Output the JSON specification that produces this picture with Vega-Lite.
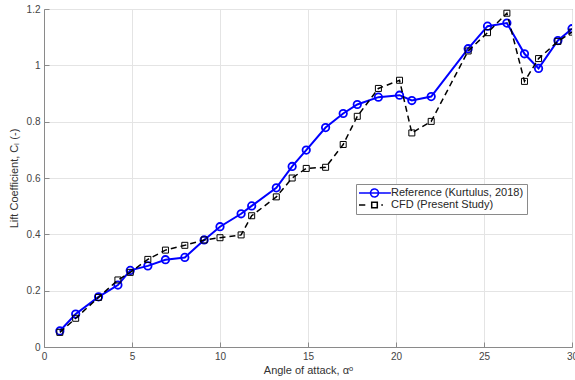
{
  "$schema": "https://vega.github.io/schema/vega-lite/v6.json",
  "width": 528,
  "height": 338,
  "autosize": "none",
  "padding": {"left": 44, "top": 9, "right": 3, "bottom": 33},
  "background": "white",
  "config": {
    "font": "Liberation Sans",
    "view": {"stroke": "#8a8a8a", "strokeWidth": 1},
    "axis": {
      "grid": true,
      "gridColor": "#e4e4e4",
      "gridWidth": 1,
      "domainColor": "#8a8a8a",
      "tickColor": "#8a8a8a",
      "tickSize": -5,
      "labelFont": "Liberation Sans",
      "labelFontSize": 10,
      "labelColor": "#444444",
      "titleFont": "Liberation Sans",
      "titleFontSize": 11,
      "titleFontWeight": "normal",
      "titleColor": "#333333"
    }
  },
  "data": {
    "values": [
      {"series": "Reference (Kurtulus, 2018)", "aoa": 0.9, "cl": 0.057},
      {"series": "Reference (Kurtulus, 2018)", "aoa": 1.8, "cl": 0.117},
      {"series": "Reference (Kurtulus, 2018)", "aoa": 3.1, "cl": 0.178},
      {"series": "Reference (Kurtulus, 2018)", "aoa": 4.2, "cl": 0.22},
      {"series": "Reference (Kurtulus, 2018)", "aoa": 4.9, "cl": 0.272},
      {"series": "Reference (Kurtulus, 2018)", "aoa": 5.9, "cl": 0.288},
      {"series": "Reference (Kurtulus, 2018)", "aoa": 6.9, "cl": 0.31},
      {"series": "Reference (Kurtulus, 2018)", "aoa": 8.0, "cl": 0.318},
      {"series": "Reference (Kurtulus, 2018)", "aoa": 9.1, "cl": 0.38},
      {"series": "Reference (Kurtulus, 2018)", "aoa": 10.0, "cl": 0.427},
      {"series": "Reference (Kurtulus, 2018)", "aoa": 11.2, "cl": 0.473},
      {"series": "Reference (Kurtulus, 2018)", "aoa": 11.8, "cl": 0.501},
      {"series": "Reference (Kurtulus, 2018)", "aoa": 13.2, "cl": 0.565},
      {"series": "Reference (Kurtulus, 2018)", "aoa": 14.1, "cl": 0.641},
      {"series": "Reference (Kurtulus, 2018)", "aoa": 14.9, "cl": 0.699},
      {"series": "Reference (Kurtulus, 2018)", "aoa": 16.0, "cl": 0.779},
      {"series": "Reference (Kurtulus, 2018)", "aoa": 17.0, "cl": 0.829},
      {"series": "Reference (Kurtulus, 2018)", "aoa": 17.8, "cl": 0.861},
      {"series": "Reference (Kurtulus, 2018)", "aoa": 19.0, "cl": 0.887},
      {"series": "Reference (Kurtulus, 2018)", "aoa": 20.2, "cl": 0.894},
      {"series": "Reference (Kurtulus, 2018)", "aoa": 20.9, "cl": 0.875},
      {"series": "Reference (Kurtulus, 2018)", "aoa": 22.0, "cl": 0.889},
      {"series": "Reference (Kurtulus, 2018)", "aoa": 24.1, "cl": 1.059},
      {"series": "Reference (Kurtulus, 2018)", "aoa": 25.2, "cl": 1.139},
      {"series": "Reference (Kurtulus, 2018)", "aoa": 26.3, "cl": 1.15},
      {"series": "Reference (Kurtulus, 2018)", "aoa": 27.3, "cl": 1.041},
      {"series": "Reference (Kurtulus, 2018)", "aoa": 28.1, "cl": 0.989},
      {"series": "Reference (Kurtulus, 2018)", "aoa": 29.2, "cl": 1.088},
      {"series": "Reference (Kurtulus, 2018)", "aoa": 30.0, "cl": 1.13},
      {"series": "CFD (Present Study)", "aoa": 0.9, "cl": 0.052},
      {"series": "CFD (Present Study)", "aoa": 1.8, "cl": 0.102},
      {"series": "CFD (Present Study)", "aoa": 3.1, "cl": 0.176},
      {"series": "CFD (Present Study)", "aoa": 4.2, "cl": 0.238},
      {"series": "CFD (Present Study)", "aoa": 4.9, "cl": 0.265},
      {"series": "CFD (Present Study)", "aoa": 5.9, "cl": 0.311},
      {"series": "CFD (Present Study)", "aoa": 6.9, "cl": 0.344},
      {"series": "CFD (Present Study)", "aoa": 8.0, "cl": 0.361},
      {"series": "CFD (Present Study)", "aoa": 9.1, "cl": 0.38},
      {"series": "CFD (Present Study)", "aoa": 10.0, "cl": 0.388},
      {"series": "CFD (Present Study)", "aoa": 11.2, "cl": 0.398},
      {"series": "CFD (Present Study)", "aoa": 11.8, "cl": 0.466},
      {"series": "CFD (Present Study)", "aoa": 13.2, "cl": 0.533},
      {"series": "CFD (Present Study)", "aoa": 14.1, "cl": 0.6},
      {"series": "CFD (Present Study)", "aoa": 14.9, "cl": 0.634},
      {"series": "CFD (Present Study)", "aoa": 16.0, "cl": 0.638},
      {"series": "CFD (Present Study)", "aoa": 17.0, "cl": 0.719},
      {"series": "CFD (Present Study)", "aoa": 17.8, "cl": 0.819},
      {"series": "CFD (Present Study)", "aoa": 19.0, "cl": 0.918},
      {"series": "CFD (Present Study)", "aoa": 20.2, "cl": 0.947},
      {"series": "CFD (Present Study)", "aoa": 20.9, "cl": 0.76},
      {"series": "CFD (Present Study)", "aoa": 22.0, "cl": 0.801},
      {"series": "CFD (Present Study)", "aoa": 24.1, "cl": 1.051},
      {"series": "CFD (Present Study)", "aoa": 25.2, "cl": 1.116},
      {"series": "CFD (Present Study)", "aoa": 26.3, "cl": 1.185},
      {"series": "CFD (Present Study)", "aoa": 27.3, "cl": 0.943},
      {"series": "CFD (Present Study)", "aoa": 28.1, "cl": 1.024},
      {"series": "CFD (Present Study)", "aoa": 29.2, "cl": 1.085},
      {"series": "CFD (Present Study)", "aoa": 30.0, "cl": 1.118}
    ]
  },
  "encoding": {
    "x": {
      "field": "aoa", "type": "quantitative",
      "scale": {"domain": [0, 30], "nice": false},
      "axis": {"values": [0, 5, 10, 15, 20, 25, 30], "title": "Angle  of  attack,  αᵒ", "labelPadding": 9, "titlePadding": 3, "labelFlush": false}
    },
    "y": {
      "field": "cl", "type": "quantitative",
      "scale": {"domain": [0, 1.2], "nice": false},
      "axis": {"values": [0, 0.2, 0.4, 0.6, 0.8, 1, 1.2], "format": "~g", "title": "Lift  Coefficient,  Cₗ  (-)", "labelPadding": 9, "titlePadding": 7, "labelFlush": false}
    },
    "color": {
      "field": "series", "type": "nominal",
      "scale": {"domain": ["Reference (Kurtulus, 2018)", "CFD (Present Study)"], "range": ["#0000ff", "#000000"]},
      "legend": {
        "title": null,
        "orient": "none",
        "legendX": 312,
        "legendY": 175,
        "padding": 3,
        "fillColor": "white",
        "strokeColor": "#8a8a8a",
        "labelFont": "Liberation Sans",
        "labelFontSize": 11,
        "labelColor": "#262626",
        "rowPadding": 0,
        "clipHeight": 12,
        "symbolSize": 64,
        "symbolOffset": 10,
        "labelOffset": 11,
        "symbolStrokeWidth": 1.5,
        "encode": {
          "symbols": {
            "update": {
              "shape": {"signal": "datum.value === 'CFD (Present Study)' ? 'M-4.1,0H-2.3M1.7,0H2.1M-0.7,-0.7H0.7V0.7H-0.7Z' : 'M-4.1,0H4.1M1,0A1,1,0,1,1,-1,0A1,1,0,1,1,1,0'"},
              "fill": {"value": "transparent"},
              "strokeDash": {"value": [1, 0]},
              "size": {"value": 64},
              "strokeWidth": {"value": 1.5}
            }
          }
        }
      }
    }
  },
  "layer": [
    {
      "transform": [{"filter": "datum.series === 'Reference (Kurtulus, 2018)'"}],
      "mark": {"type": "line", "clip": true, "strokeWidth": 2}
    },
    {
      "transform": [{"filter": "datum.series === 'Reference (Kurtulus, 2018)'"}],
      "mark": {"type": "point", "shape": "circle", "filled": false, "clip": true, "opacity": 1, "size": 55, "strokeWidth": 1.8}
    },
    {
      "transform": [{"filter": "datum.series === 'CFD (Present Study)'"}],
      "mark": {"type": "line", "clip": true, "strokeWidth": 1.5, "strokeDash": [6, 4]}
    },
    {
      "transform": [{"filter": "datum.series === 'CFD (Present Study)'"}],
      "mark": {"type": "point", "shape": "square", "filled": false, "clip": true, "opacity": 1, "size": 36, "strokeWidth": 1}
    }
  ]
}
